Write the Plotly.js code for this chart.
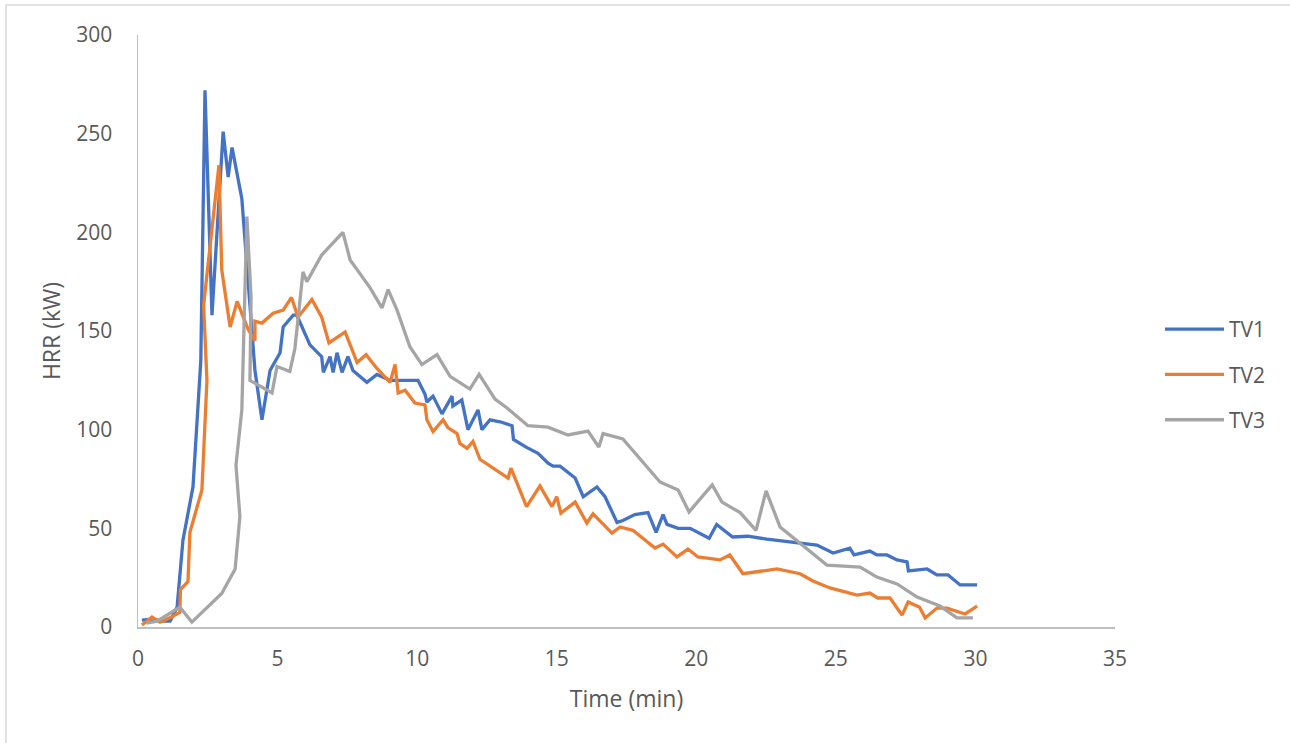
<!DOCTYPE html>
<html>
<head>
<meta charset="utf-8">
<script src="https://cdn.plot.ly/plotly-3.0.1.min.js"></script>
<style>
html,body{margin:0;padding:0;background:#fff;}
#chart{width:1290px;height:743px;}
</style>
</head>
<body>
<div id="chart"></div>
<script>
// TV1
const tv1Time = [0.14,0.5,0.85,1.15,1.4,1.61,1.97,2.25,2.4,2.65,3.05,3.23,3.37,3.72,4.0,4.19,4.44,4.73,5.09,5.2,5.56,5.69,6.16,6.58,6.64,6.88,6.99,7.13,7.31,7.52,7.7,8.2,8.56,9.03,10.03,10.28,10.35,10.57,10.89,11.25,11.28,11.6,11.82,12.18,12.32,12.61,12.97,13.4,13.45,13.92,14.33,14.69,14.87,15.12,15.66,15.95,16.44,16.73,17.16,17.37,17.8,18.27,18.56,18.81,18.95,19.35,19.78,20.46,20.73,21.3,21.85,22.53,23.72,24.32,24.9,25.5,25.65,26.22,26.47,26.83,27.19,27.55,27.6,28.27,28.62,29.02,29.45,30.06];
const tv1HRR = [3.5,4,3,3,10,44,71,135,272,158,251,228,243,217,165,130,105,130,139,152,158,158,143,137,129,137,129,139,129,137,130,124,128,125,125,118,114,117,108,117,112,115,100,110,100,105,104,102,95,91,88,83,81.5,81.5,75.5,66,71,66,53,54,57,58,48,57,52,50,50,45,52,45.6,46,44.5,42.5,41.5,37.5,40,36.5,38.5,36.5,36.5,34,33,28.4,29.4,26.4,26.4,21.3,21.3];
// TV2
const tv2Time = [0.14,0.5,0.79,1.2,1.5,1.52,1.79,1.86,2.29,2.47,2.35,2.9,3.0,3.3,3.55,3.94,4.19,4.19,4.44,4.84,5.2,5.5,5.73,6.23,6.58,6.84,7.16,7.42,7.6,7.85,8.17,8.56,9.03,9.21,9.32,9.57,9.92,10.28,10.35,10.57,10.93,11.1,11.43,11.53,11.79,12.0,12.25,12.72,13.26,13.36,13.92,14.4,14.83,15.0,15.15,15.66,16.08,16.3,16.98,17.27,17.73,18.52,18.81,19.31,19.7,20.06,20.85,21.2,21.67,22.17,22.89,23.72,24.18,24.79,25.76,26.22,26.5,26.94,27.37,27.59,28.0,28.2,28.62,28.98,29.63,30.06];
const tv2HRR = [1,5,2.5,5,7.5,19,23,48,69.5,125,163,234,181,152,165,151,145,155,154,159,160.6,167,157,166,157,144,147,149.5,143,134,138,131,124,133,118.6,120,113.5,112.5,105,99,105,101,98,93,90.5,94,85,80.5,75.5,80.5,61,71.5,61,66,57.7,63.3,52.7,57.3,47.6,50.7,49,40,42,35.5,39.5,35.5,34,36.5,27,28,29.4,27,23.3,19.8,16.2,17.2,14.7,14.7,6,12.7,10,4.6,9.6,9.6,6.6,10.6];
// TV3
const tv3Time = [0.3,0.68,1.5,1.93,3.0,3.48,3.65,3.51,3.72,3.9,4.05,4.01,4.8,4.98,5.44,5.62,5.91,6.05,6.58,7.34,7.6,8.31,8.74,8.96,9.28,9.74,10.17,10.71,11.18,11.89,12.22,12.79,13.22,13.97,14.69,15.4,16.12,16.51,16.66,17.37,18.7,19.35,19.74,20.57,20.92,21.57,22.14,22.5,23.0,23.82,24.68,25.87,26.47,27.19,27.91,28.73,29.34,29.91];
const tv3HRR = [2,3,10,2.5,17,29.4,56,82,110,208,167,125,118.6,132,129.5,141,180,175,188.5,200,186,172,161.7,171,160.6,142,133,138,127,120.6,128,115.5,111,102,101.3,97.3,99.3,91.2,98,95.3,73.5,69.4,58.3,72,63.3,58,49,69,50.7,41.5,31.4,30.4,25.3,21.8,15.2,10.6,4.6,4.6];

const seriesNames = ["TV1","TV2","TV3"];
const seriesColors = ["#4472C4","#ED7D31","#A5A5A5"];
const xTitle = "Time (min)";
const yTitle = "HRR (kW)";

const FONT = "'Open Sans', sans-serif";
const TXT = "#595959";

const xs = [tv1Time, tv2Time, tv3Time];
const ys = [tv1HRR, tv2HRR, tv3HRR];
const traces = seriesNames.map((n,i)=>({
  type:"scatter", mode:"lines", name:n, x:xs[i], y:ys[i],
  line:{color:seriesColors[i], width:3.3, shape:"linear"},
  legendgroup:n, hoverinfo:"skip"
}));

const L=138, R=1290-1115, T=35, B=743-627;
const W=1290-L-R, H=743-T-B;
const px = v => (v-L)/W, py = v => (743-B-v)/H;

const layout = {
  width:1290, height:743,
  margin:{l:L, r:R, t:T, b:B, pad:0},
  paper_bgcolor:"#ffffff", plot_bgcolor:"#ffffff",
  font:{family:FONT, color:TXT, size:21},
  showlegend:true,
  legend:{x:px(1160), y:py(309), xanchor:"left", yanchor:"top",
    font:{family:FONT, size:21, color:TXT}, traceorder:"grouped", tracegroupgap:15,
    itemwidth:59, bgcolor:"rgba(0,0,0,0)"},
  xaxis:{range:[0,35], dtick:5, tick0:0, showgrid:false, zeroline:false,
    showline:true, linecolor:"#BFBFBF", linewidth:1.5, ticks:"",
    ticklabelstandoff:12, tickfont:{family:FONT,size:21,color:TXT},
    title:{text:xTitle, font:{family:FONT,size:23,color:TXT}, standoff:20}},
  yaxis:{range:[0,300], dtick:50, tick0:0, showgrid:false, zeroline:false,
    showline:true, linecolor:"#BFBFBF", linewidth:1.5, ticks:"",
    ticklabelstandoff:20, tickfont:{family:FONT,size:21,color:TXT},
    title:{text:yTitle, font:{family:FONT,size:23,color:TXT}, standoff:9}},
  shapes:[{type:"rect", xref:"paper", yref:"paper",
    x0:px(6), x1:px(1300), y0:py(760), y1:py(5),
    line:{color:"#D9D9D9", width:1.5}, fillcolor:"rgba(0,0,0,0)", layer:"below"}]
};

Plotly.newPlot("chart", traces, layout, {displayModeBar:false, staticPlot:true});
</script>
</body>
</html>
